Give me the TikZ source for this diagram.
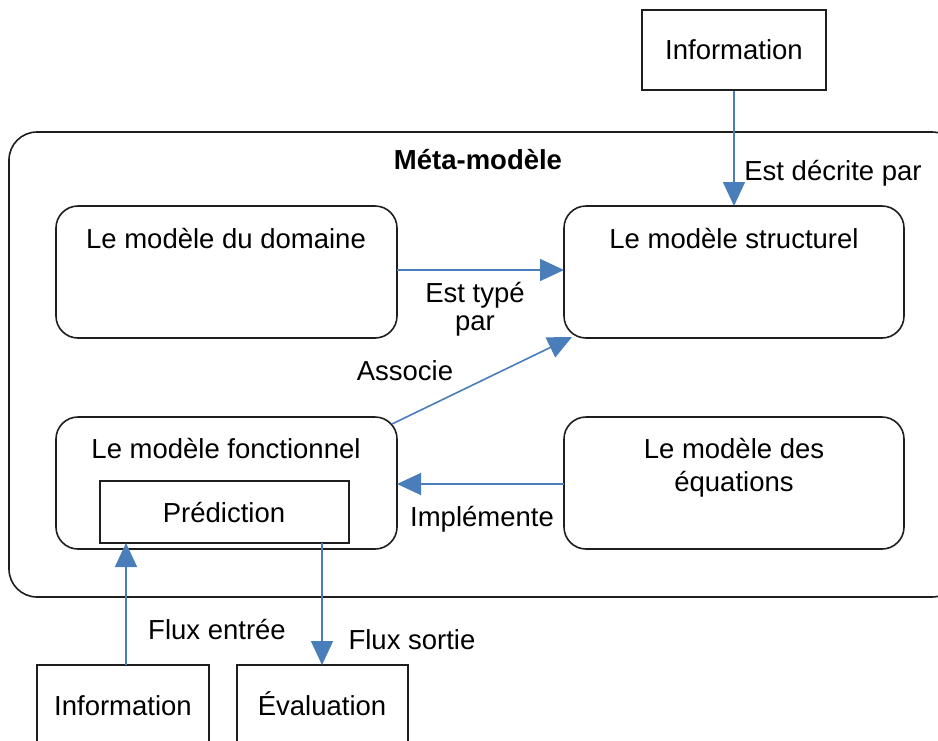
\documentclass[tikz,border=0pt]{standalone}
\usepackage{fontspec}
\setmainfont{Liberation Sans}
\usetikzlibrary{arrows.meta}
\definecolor{arrblue}{RGB}{74,126,187}
\definecolor{boxline}{RGB}{30,30,30}
\tikzset{
  sbox/.style={draw=boxline, line width=0.8pt, rounded corners=0pt},
  rbox/.style={draw=boxline, line width=0.8pt, rounded corners=11pt},
  txt/.style={inner sep=0pt, font=\fontsize{13.75pt}{16.5pt}\selectfont, align=center},
  flow/.style={draw=arrblue, line width=0.8pt, -{Triangle[width=11pt,length=12pt]}, arrblue},
}
\begin{document}
\begin{tikzpicture}[x=0.5pt,y=-0.5pt]
\useasboundingbox (0,0) rectangle (938,740);
% outer meta-model box
\draw[draw=boxline, line width=0.8pt, rounded corners=14pt] (9,132) rectangle (960,597);
\node[txt, font=\fontsize{13.75pt}{16.5pt}\selectfont\bfseries] (meta) at (478,160) {Méta-modèle};
% inner boxes
\draw[rbox] (56,206) rectangle (397,338);
\coordinate (domE) at (397,270);
\draw[rbox] (564,206) rectangle (904,338);
\coordinate (strW) at (564,270);
\coordinate (strN) at (734,206);
\coordinate (strSW) at (572,337);
\draw[rbox] (56,417) rectangle (397,549);
\coordinate (fonNE) at (392,424);
\coordinate (fonE) at (397,484);
\draw[rbox] (564,417) rectangle (904,549);
\coordinate (equW) at (564,484);
\draw[sbox] (100,481) rectangle (349,543);
\coordinate (preSin) at (126,543);
\coordinate (preSout) at (322,543);
% outer boxes
\node[sbox, minimum width=92pt, minimum height=40pt, txt, inner sep=0pt] (infoT) at (734,50) {Information};
\draw[sbox] (37,665) rectangle (209,760);
\coordinate (infoBN) at (126,665);
\draw[sbox] (237,665) rectangle (408,760);
\coordinate (evalN) at (322,665);
% texts
\node[txt] (tdom) at (226,239) {Le modèle du domaine};
\node[txt] (tstr) at (734,239) {Le modèle structurel};
\node[txt] (tfon) at (226,449) {Le modèle fonctionnel};
\node[txt] (tequ) at (734,468) {Le modèle des\\équations};
\node[txt] (tpre) at (224,513) {Prédiction};
\node[txt] (tinfoB) at (123,706) {Information};
\node[txt] (teval) at (322,704) {Évaluation};
% arrows
\draw[flow] (infoT.south) -- (strN);
\draw[flow] (domE) -- (strW);
\draw[flow] (fonNE) -- (strSW);
\draw[flow] (equW) -- (fonE);
\draw[flow] (infoBN) -- (preSin);
\draw[flow] (preSout) -- (evalN);
% labels
\node[txt] (lbl1) at (833,173) {Est décrite par};
\node[txt, font=\fontsize{13.75pt}{14pt}\selectfont] (lbl2) at (475,309) {Est typé\\par};
\node[txt] (lbl3) at (405,371) {Associe};
\node[txt] (lbl4) at (482,519) {Implémente};
\node[txt] (lbl5) at (217,629) {Flux entrée};
\node[txt] (lbl6) at (412,640) {Flux sortie};
\end{tikzpicture}
\end{document}
